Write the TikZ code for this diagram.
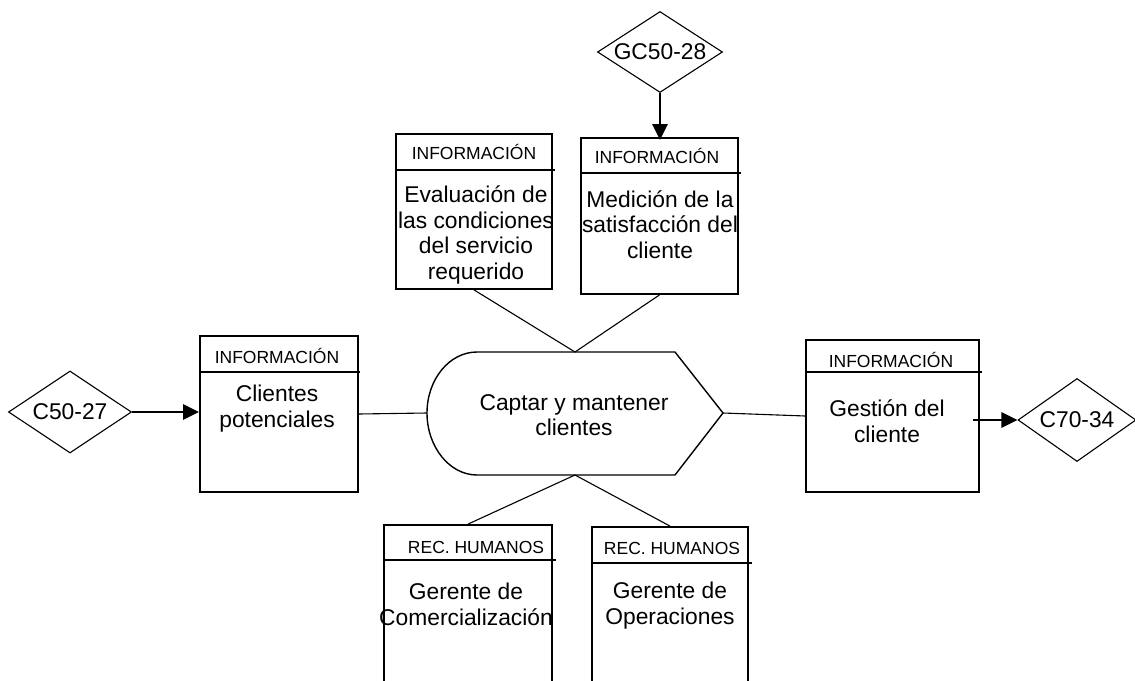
\documentclass[tikz,border=0pt]{standalone}
\usepackage{fontspec}
\setmainfont{Liberation Sans}
\usetikzlibrary{shapes.geometric,arrows.meta}
\begin{document}
\begin{tikzpicture}[x=1pt,y=-1pt,
  box/.style={draw,line width=1.8pt,inner sep=0pt},
  hline/.style={line width=1.8pt},
  hdr/.style={font=\fontsize{17.5}{20}\selectfont,inner sep=0pt,anchor=base},
  body/.style={font=\fontsize{22.8}{25.5}\selectfont,align=center,inner sep=0pt},
  link/.style={line width=1.1pt},
  feed/.style={line width=2.8pt,-{Triangle[length=16pt,width=15pt]}},
  ref/.style={diamond,draw,line width=1.1pt,inner sep=0pt,font=\fontsize{22.8}{25}\selectfont},
  procline/.style={line width=1.4pt,line join=round},
]
\useasboundingbox (0,0) rectangle (1135,680);

% ---- process shape ----
\coordinate (procTop) at (575,352);
\coordinate (procBot) at (575,475);
\coordinate (procL) at (427,413);
\coordinate (procR) at (723,413);
\draw[procline] (477,352) -- (675,352) -- (procR) -- (675,475) -- (477,475)
  .. controls (449.4,475) and (427,446.7) .. (procL)
  .. controls (427,379.3) and (449.4,352) .. cycle;
\node[body] (proc) at (574,415) {Captar y mantener\\clientes};

% ---- boxes ----
\node[box,minimum width=156,minimum height=155] (eval) at (474,211.5) {};
\node[box,minimum width=157,minimum height=156] (med) at (659.5,216) {};
\node[box,minimum width=158,minimum height=156] (cli) at (279,414) {};
\node[box,minimum width=173,minimum height=152] (ges) at (892.5,416) {};
\node[box,minimum width=168,minimum height=200] (rh1) at (468,625) {};
\node[box,minimum width=156,minimum height=200] (rh2) at (670,627) {};

% header separators
\draw[hline] (eval.north west) ++(0,37) -- ++(160,0);
\draw[hline] (med.north west) ++(0,36) -- ++(161,0);
\draw[hline] (cli.north west) ++(0,37) -- ++(161,0);
\draw[hline] (ges.north west) ++(0,33) -- ++(177,0);
\draw[hline] (rh1.north west) ++(0,36) -- ++(173,0);
\draw[hline] (rh2.north west) ++(0,37) -- ++(161,0);

% header labels
\node[hdr] (evalH) at (474,159) {INFORMACIÓN};
\node[hdr] (medH) at (657,163) {INFORMACIÓN};
\node[hdr] (cliH) at (277,363) {INFORMACIÓN};
\node[hdr] (gesH) at (891,367) {INFORMACIÓN};
\node[hdr] (rh1H) at (476,553) {REC. HUMANOS};
\node[hdr] (rh2H) at (672,554) {REC. HUMANOS};

% box contents
\node[body] (evalT) at (476,235) {Evaluación de\\las condiciones\\del servicio\\requerido};
\node[body] (medT) at (660,224.5) {Medición de la\\satisfacción del\\cliente};
\node[body] (cliT) at (277,408.5) {Clientes\\potenciales};
\node[body] (gesT) at (887,421) {Gestión del\\cliente};
\node[body] (rh1T) at (466,604.5) {Gerente de\\Comercialización};
\node[body] (rh2T) at (670,605.5) {Gerente de\\Operaciones};

% ---- references ----
\node[ref,minimum width=125,minimum height=81] (gc5028) at (660,52) {\makebox[0pt]{GC50-28}};
\node[ref,minimum width=123,minimum height=82] (c5027) at (70,412) {\makebox[0pt]{C50-27}};
\node[ref,minimum width=118,minimum height=83] (c7034) at (1077,420) {\makebox[0pt]{C70-34}};
\coordinate (gesOut) at (973,420);

% ---- connectors ----
\draw[link] (eval.south) -- (procTop) -- (med.south);
\draw[link] (rh1.north) -- (procBot) -- (rh2.north);
\draw[link] (cli.east) -- (procL);
\draw[link] (procR) -- (ges.west);

\draw[feed] (c5027.east) -- (c5027.east -| cli.west);
\draw[feed,shorten >=-3pt] (gc5028.south) -- (gc5028.south |- med.north);
\draw[feed] (gesOut) -- (c7034.west);
\end{tikzpicture}
\end{document}
